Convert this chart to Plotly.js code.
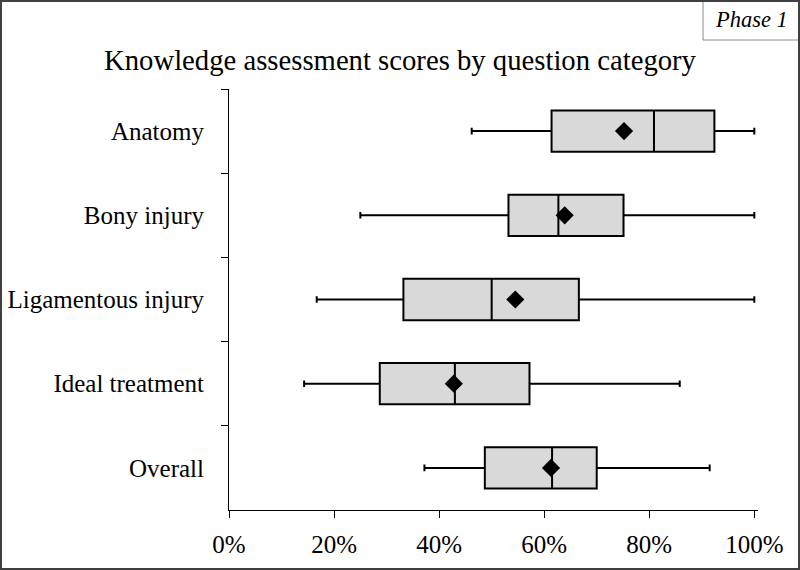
<!DOCTYPE html>
<html>
<head>
<meta charset="utf-8">
<script src="https://cdn.plot.ly/plotly-3.0.1.min.js"></script>
<style>
html,body{margin:0;padding:0;background:#fff;}
#wrap{position:relative;width:800px;height:570px;}
#chart{position:absolute;left:0;top:0;width:800px;height:570px;}
#frame{position:absolute;left:0;top:0;width:800px;height:570px;box-sizing:border-box;border:2px solid #404040;pointer-events:none;}
</style>
</head>
<body>
<div id="wrap"><div id="chart"></div><div id="frame"></div></div>
<script>
var categories = ["Anatomy", "Bony injury", "Ligamentous injury", "Ideal treatment", "Overall"];
var lowerWhisker = [0.462, 0.250, 0.167, 0.143, 0.372];
var q1Values     = [0.614, 0.532, 0.332, 0.287, 0.487];
var medianValues = [0.809, 0.627, 0.500, 0.430, 0.615];
var q3Values     = [0.924, 0.751, 0.666, 0.572, 0.700];
var upperWhisker = [1.000, 1.000, 1.000, 0.858, 0.915];
var meanValues   = [0.752, 0.639, 0.545, 0.428, 0.613];
var xTickVals = [0, 0.2, 0.4, 0.6, 0.8, 1.0];
var xTickText = ["0%", "20%", "40%", "60%", "80%", "100%"];
var titleText = "Knowledge assessment scores by question category";
var phaseText = "Phase 1";

var serif = "Liberation Serif, Times New Roman, serif";

var boxTrace = {
  type: "box",
  orientation: "h",
  y: categories,
  q1: q1Values,
  median: medianValues,
  q3: q3Values,
  lowerfence: lowerWhisker,
  upperfence: upperWhisker,
  boxpoints: false,
  fillcolor: "#d9d9d9",
  line: {color: "#000000", width: 2},
  width: 0.49,
  whiskerwidth: 0.16,
  showlegend: false,
  hoverinfo: "skip"
};

var meanTrace = {
  type: "scatter",
  mode: "markers",
  x: meanValues,
  y: categories,
  marker: {symbol: "diamond", color: "#000000", size: 14, line: {width: 0}},
  showlegend: false,
  hoverinfo: "skip"
};

var L = 228.7, R = 758, T = 89, B = 510, W = 800, H = 570;
var pw = R - L, ph = B - T;
function px2x(px){ return (px - L) / pw; }
function py2y(py){ return (B - py) / ph; }

var layout = {
  width: W, height: H,
  margin: {l: L, r: W - R, t: T, b: H - B, pad: 0},
  paper_bgcolor: "#ffffff",
  plot_bgcolor: "#ffffff",
  font: {family: serif, size: 25, color: "#000000"},
  title: {
    text: titleText,
    font: {family: serif, size: 28.7, color: "#000000"},
    xref: "container", x: 0.5, xanchor: "center",
    yref: "container", y: 1 - 60 / H, yanchor: "middle"
  },
  xaxis: {
    range: [0, 1.007],
    tickvals: xTickVals,
    ticktext: xTickText,
    ticks: "outside", ticklen: 7, tickwidth: 1, tickcolor: "#000000",
    showline: true, linecolor: "#000000", linewidth: 1,
    showgrid: false, zeroline: false,
    ticklabelstandoff: 5,
    tickfont: {family: serif, size: 25, color: "#000000"},
    fixedrange: true
  },
  yaxis: {
    type: "category",
    categoryorder: "array",
    categoryarray: categories,
    range: [4.5, -0.5],
    ticks: "outside", tickson: "boundaries", ticklen: 7, tickwidth: 1, tickcolor: "#000000",
    showline: true, linecolor: "#000000", linewidth: 1,
    showgrid: false, zeroline: false,
    ticklabelstandoff: 19,
    tickfont: {family: serif, size: 25, color: "#000000"},
    fixedrange: true
  },
  shapes: [{
    type: "rect", xref: "paper", yref: "paper",
    x0: px2x(703), x1: px2x(800), y0: py2y(40), y1: py2y(0),
    line: {color: "#8c8c8c", width: 1}, fillcolor: "rgba(0,0,0,0)"
  }],
  annotations: [{
    text: "<i>" + phaseText + "</i>",
    xref: "paper", yref: "paper",
    x: px2x(751), y: py2y(20), xanchor: "center", yanchor: "middle",
    showarrow: false,
    font: {family: serif, size: 22.5, color: "#000000"}
  }]
};

Plotly.newPlot("chart", [boxTrace, meanTrace], layout, {displayModeBar: false, staticPlot: true});
</script>
</body>
</html>
